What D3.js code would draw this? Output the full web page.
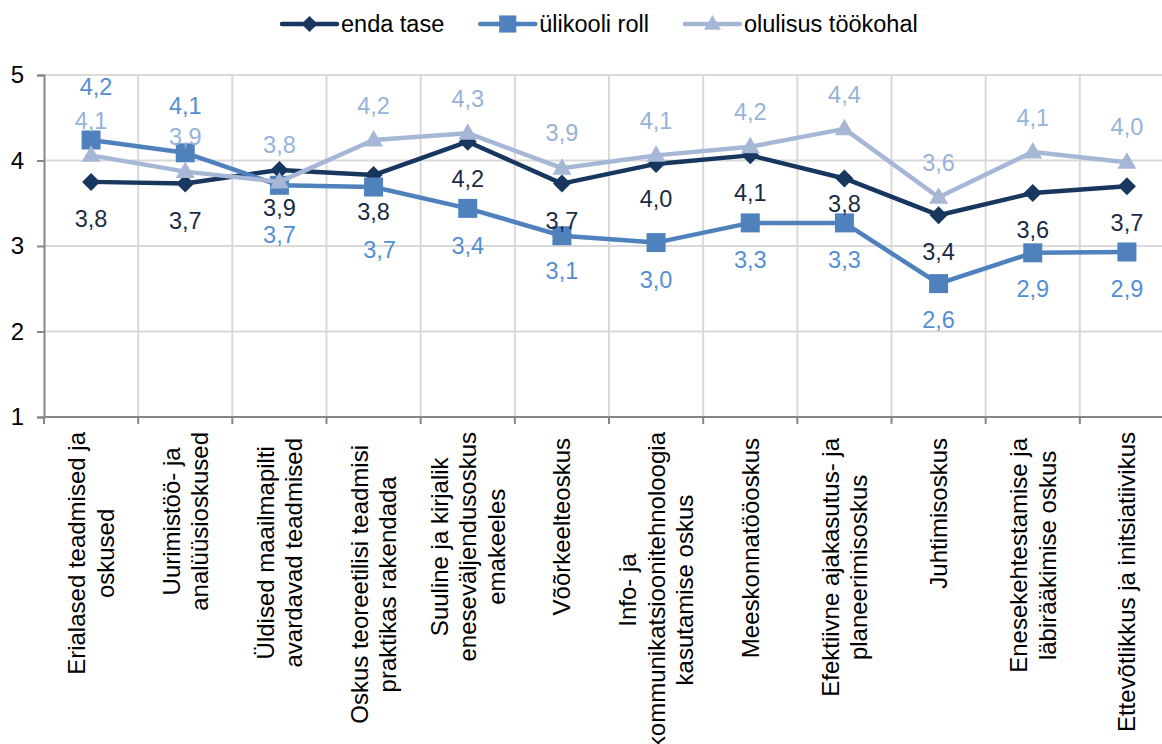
<!DOCTYPE html>
<html>
<head>
<meta charset="utf-8">
<script src="https://cdn.jsdelivr.net/npm/d3@7"></script>
<style>
  html, body { margin: 0; padding: 0; background: #fff; }
  svg { display: block; font-family: "Liberation Sans", Arial, sans-serif; }
</style>
</head>
<body>
<svg id="chart" width="1162" height="744"></svg>
<script>
// ---- data ----
const categories = [
  ["Erialased teadmised ja", "oskused"],
  ["Uurimistöö- ja", "analüüsioskused"],
  ["Üldised maailmapilti", "avardavad teadmised"],
  ["Oskus teoreetilisi teadmisi", "praktikas rakendada"],
  ["Suuline ja kirjalik", "eneseväljendusoskus", "emakeeles"],
  ["Võõrkeelteoskus"],
  ["Info- ja", "kommunikatsioonitehnoloogia", "kasutamise oskus"],
  ["Meeskonnatööoskus"],
  ["Efektiivne ajakasutus- ja", "planeerimisoskus"],
  ["Juhtimisoskus"],
  ["Enesekehtestamise ja", "läbirääkimise oskus"],
  ["Ettevõtlikkus ja initsiatiivikus"]
];
const seriesNames = ["enda tase", "ülikooli roll", "olulisus töökohal"];
const endaTase      = [3.75, 3.73, 3.89, 3.83, 4.22, 3.73, 3.96, 4.06, 3.79, 3.36, 3.62, 3.70];
const ylikooliRoll  = [4.24, 4.09, 3.71, 3.69, 3.44, 3.12, 3.04, 3.27, 3.27, 2.56, 2.92, 2.93];
const olulisusTookohal = [4.06, 3.87, 3.75, 4.24, 4.32, 3.91, 4.06, 4.16, 4.37, 3.57, 4.10, 3.98];
const yTicks = [1, 2, 3, 4, 5];

// ---- layout (label nudges, px) ----
const endaLabelDy = [37, 37, 38, 37, 37, 37, 35, 38, 26, 37, 37, 37];
const ylikLabelDy = [-53, -47, 50, 63, 38, 35, 37, 37, 37, 36, 36, 37];
const ylikLabelDx = [5, 0, 0, 6, 0, 0, 0, 0, 0, 0, 0, 0];
const olulLabelDy = [-34, -35, -37, -34, -34, -35, -34, -35, -34, -34, -34, -35];
const catLabelShift = [0, 0, 6, 13, 0, 6, 0, 6, 6, 6, 6, 0];
const zeroDx = categories.map(() => 0);

// ---- styles ----
const FONT = 23.5;
const CAT_FONT = 24;
const colors = {
  enda: "#17375E", ylik: "#4F81BD", olul: "#A6B7D6",
  endaLbl: "#1A2B45", ylikLbl: "#558ED5", olulLbl: "#95B3D7"
};

const svg = d3.select("#chart");
const plot = { left: 44, right: 1174, top: 75, bottom: 417 };

const x = d3.scaleBand().domain(d3.range(categories.length)).range([plot.left, plot.right]).padding(0);
const y = d3.scaleLinear().domain([1, 5]).range([plot.bottom, plot.top]);
const cx = i => x(i) + x.bandwidth() / 2;
const bx = i => i < categories.length ? x(i) : plot.right;

// gridlines
const grid = svg.append("g");
grid.selectAll("line.h").data(yTicks.slice(1)).join("line")
  .attr("x1", plot.left).attr("x2", plot.right)
  .attr("y1", d => y(d)).attr("y2", d => y(d))
  .attr("stroke", "#D9D9D9").attr("stroke-width", 2);
grid.selectAll("line.v").data(d3.range(1, categories.length + 1)).join("line")
  .attr("x1", bx).attr("x2", bx)
  .attr("y1", plot.top).attr("y2", plot.bottom)
  .attr("stroke", "#D9D9D9").attr("stroke-width", 2);

// y axis
const yAxis = d3.axisLeft(y).tickValues(yTicks).tickSize(7).tickPadding(13).tickFormat(d3.format("d"));
const gy = svg.append("g").attr("transform", `translate(${plot.left},0)`).call(yAxis);
gy.select(".domain").attr("stroke", "#868686").attr("stroke-width", 2);
gy.selectAll(".tick line").attr("stroke", "#868686").attr("stroke-width", 2);
gy.selectAll(".tick text").attr("font-size", 24).attr("fill", "#000")
  .attr("font-family", "Liberation Sans, Arial, sans-serif");

// x axis (line + ticks at boundaries)
const xAxisG = svg.append("g");
xAxisG.append("line").attr("x1", plot.left).attr("x2", plot.right)
  .attr("y1", plot.bottom).attr("y2", plot.bottom)
  .attr("stroke", "#868686").attr("stroke-width", 2);
xAxisG.selectAll("line.t").data(d3.range(0, categories.length + 1)).join("line")
  .attr("x1", bx).attr("x2", bx)
  .attr("y1", plot.bottom).attr("y2", plot.bottom + 7)
  .attr("stroke", "#868686").attr("stroke-width", 2);

// category labels (rotated)
const LH = 28.5;
categories.forEach((lines, i) => {
  const g = svg.append("g").attr("transform", `translate(${cx(i)},${432 + catLabelShift[i]}) rotate(-90)`);
  const texts = lines.map((t, k) => g.append("text")
    .attr("font-size", CAT_FONT).attr("fill", "#000")
    .attr("text-anchor", "middle").attr("dominant-baseline", "central")
    .attr("y", (k - (lines.length - 1) / 2) * LH)
    .text(t));
  const maxW = d3.max(texts, t => t.node().getComputedTextLength());
  texts.forEach(t => t.attr("x", -maxW / 2));
});

// series
const seriesDefs = [
  { vals: endaTase, color: colors.enda, lbl: colors.endaLbl, dy: endaLabelDy, dx: zeroDx, shape: "diamond" },
  { vals: ylikooliRoll, color: colors.ylik, lbl: colors.ylikLbl, dy: ylikLabelDy, dx: ylikLabelDx, shape: "square" },
  { vals: olulisusTookohal, color: colors.olul, lbl: colors.olulLbl, dy: olulLabelDy, dx: zeroDx, shape: "triangle" }
];
function markerPath(shape, s) {
  if (shape === "diamond") { const h = 9 * s; return `M0,${-h}L${h},0L0,${h}L${-h},0Z`; }
  if (shape === "square") { const h = 9.5 * s; return `M${-h},${-h}H${h}V${h}H${-h}Z`; }
  const w = 9.5 * s; return `M0,${-10 * s}L${w},${6.5 * s}L${-w},${6.5 * s}Z`;
}
const line = d3.line().x((d, i) => cx(i)).y(d => y(d));
seriesDefs.forEach(sd => {
  const g = svg.append("g");
  g.append("path").attr("d", line(sd.vals)).attr("fill", "none")
    .attr("stroke", sd.color).attr("stroke-width", 4.5).attr("stroke-linejoin", "round").attr("stroke-linecap", "round");
  g.selectAll("path.m").data(sd.vals).join("path")
    .attr("transform", (d, i) => `translate(${cx(i)},${y(d)})`)
    .attr("d", markerPath(sd.shape, 1)).attr("fill", sd.color);
});

// data labels
const fmt = v => v.toFixed(1).replace(".", ",");
seriesDefs.forEach(sd => {
  svg.append("g").selectAll("text").data(sd.vals).join("text")
    .attr("x", (d, i) => cx(i) + sd.dx[i])
    .attr("y", (d, i) => y(d) + sd.dy[i])
    .attr("text-anchor", "middle").attr("dominant-baseline", "central")
    .attr("font-size", FONT).attr("fill", sd.lbl)
    .text(d => fmt(d));
});

// legend
const legend = svg.append("g").attr("transform", "translate(282,24)");
let lx = 0;
seriesDefs.forEach((sd, k) => {
  const g = legend.append("g").attr("transform", `translate(${lx},0)`);
  g.append("line").attr("x1", 0).attr("x2", 55).attr("y1", 0).attr("y2", 0)
    .attr("stroke", sd.color).attr("stroke-width", 4.5).attr("stroke-linecap", "round");
  g.append("path").attr("transform", "translate(27.5,0)").attr("d", markerPath(sd.shape, 0.9)).attr("fill", sd.color);
  const t = g.append("text").attr("x", 59).attr("y", 0).attr("dominant-baseline", "central")
    .attr("font-size", FONT).attr("fill", "#000").text(seriesNames[k]);
  lx += 59 + t.node().getComputedTextLength() + 36;
});
</script>
</body>
</html>
